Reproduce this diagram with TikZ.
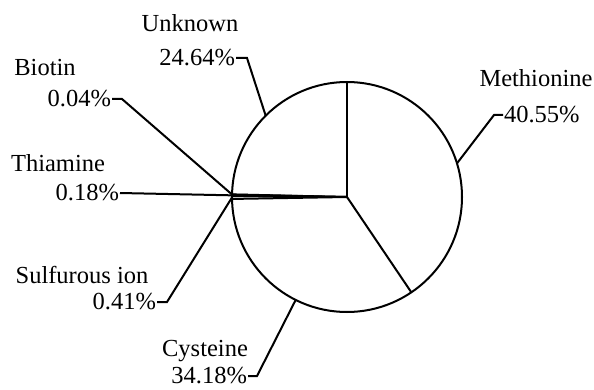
\documentclass[tikz,border=0pt]{standalone}
\usepackage{fontspec}
\setmainfont{Liberation Serif}
\usetikzlibrary{calc}

\begin{document}
\begin{tikzpicture}[x=1pt,y=1pt,line width=2pt,
		lbl/.style={font=\fontsize{24.5}{26}\selectfont,inner sep=0pt}]
			\useasboundingbox (0,0) rectangle (594,389);
			\def\rad{115}
			
			% Pie and slice borders
			\coordinate (c) at (347,192);
			\draw (c) circle (\rad);
			\draw (c) -- ++(90:\rad);
			\draw (c) -- ++(304.02:\rad);
			\draw (c) -- ++(180.97:\rad);
			\draw (c) -- ++(179.49:\rad);
			\draw (c) -- ++(178.84:\rad);
			\draw (c) -- ++(178.70:\rad);
			
			% Points on the rim for the leaders
			\coordinate (methP) at ($(c)+(17:\rad)$);
			\coordinate (cystP) at ($(c)+(243.5:\rad)$);
			\coordinate (sulfP) at ($(c)+(180.23:\rad)$);
			\coordinate (thiaP) at ($(c)+(179.17:\rad)$);
			\coordinate (bioP) at ($(c)+(178.77:\rad)$);
			\coordinate (unkP) at ($(c)+(135:\rad)$);
			
			% Labels
			\node[lbl,anchor=west] (methV) at (503,274) {40.55\%};
			\node[lbl] (methN) at (536,311) {Methionine};
			\node[lbl,anchor=east] (cystV) at (248,13) {34.18\%};
			\node[lbl] (cystN) at (205,38) {Cysteine};
			\node[lbl,anchor=east] (sulfV) at (157,87) {0.41\%};
			\node[lbl] (sulfN) at (82,114) {Sulfurous ion};
			\node[lbl,anchor=east] (thiaV) at (120,196) {0.18\%};
			\node[lbl] (thiaN) at (58,226) {Thiamine};
			\node[lbl,anchor=east] (bioV) at (112,290) {0.04\%};
			\node[lbl] (bioN) at (45,321) {Biotin};
			\node[lbl,anchor=east] (unkV) at (236,331) {24.64\%};
			\node[lbl] (unkN) at (190,366) {Unknown};
			
			% Leaders
			\draw (methP) -- (494,274) -- (methV.west);
			\draw (cystP) -- (257,13) -- (cystV.east);
			\draw (sulfP) -- (167,87) -- (sulfV.east);
			\draw (thiaP) -- (thiaV.east);
			\draw (bioP) -- (122,290) -- (bioV.east);
			\draw (unkP) -- (247,331) -- (unkV.east);
		\end{tikzpicture}
\end{document}
